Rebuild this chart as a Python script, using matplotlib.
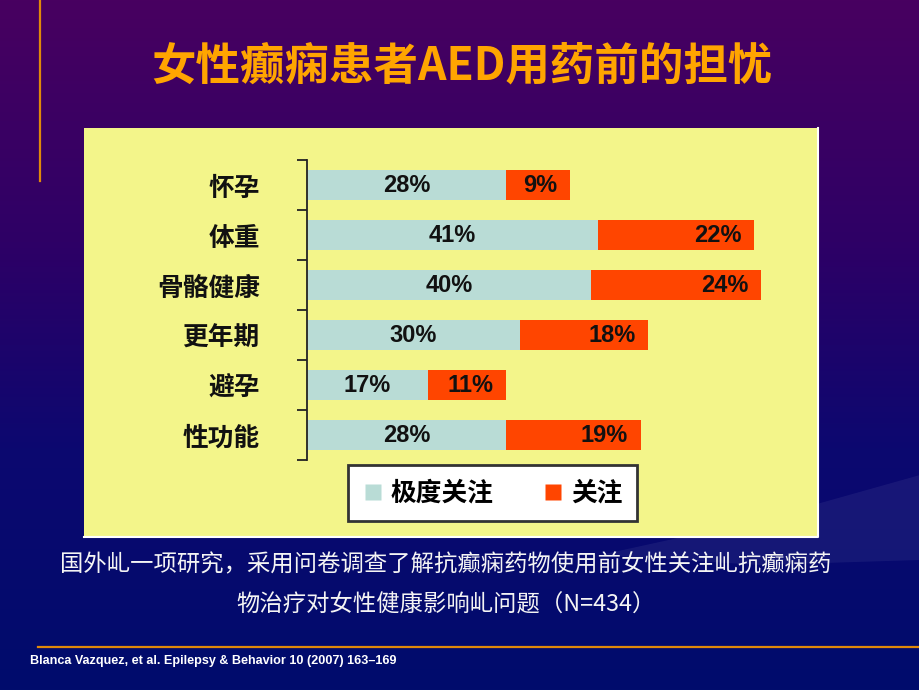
import numpy as np
import matplotlib
matplotlib.use('Agg')
import matplotlib.pyplot as plt
from matplotlib.lines import Line2D
from matplotlib.patches import Rectangle, Polygon

plt.rcParams['font.family'] = ['Noto Sans CJK SC', 'DejaVu Sans']

# data
categories = ['怀孕', '体重', '骨骼健康', '更年期', '避孕', '性功能']
very_concerned = [28, 41, 40, 30, 17, 28]
concerned = [9, 22, 24, 18, 11, 19]
series_names = ['极度关注', '关注']

title = '女性癫痫患者AED用药前的担忧'
caption = ['国外乢一项研究，采用问卷调查了解抗癫痫药物使用前女性关注乢抗癫痫药',
           '物治疗对女性健康影响乢问题（N=434）']
citation = 'Blanca Vazquez, et al. Epilepsy & Behavior 10 (2007) 163\u2013169'

c_cyan = '#B9DCD6'
c_red = '#FF4500'
W, H = 920, 690

fig = plt.figure(figsize=(9.2, 6.9), dpi=100)

# slide background: purple -> navy gradient
bg = fig.add_axes([0, 0, 1, 1])
bg.set_xlim(0, W)
bg.set_ylim(H, 0)
bg.axis('off')
stops = [0.0, 0.35, 0.65, 1.0]
cols = np.array([[72, 0, 96], [46, 0, 102], [12, 8, 112], [0, 12, 108]]) / 255.0
t = np.linspace(0, 1, H)
grad = np.stack([np.interp(t, stops, cols[:, k]) for k in range(3)], axis=1)
bg.imshow(grad[:, None, :], extent=[0, W, H, 0], aspect='auto', zorder=0)

# faint swoosh on the right
bg.add_patch(Polygon([(600, 555), (760, 520), (920, 475), (920, 560), (760, 565)],
                     closed=True, fc='white', ec='none', alpha=0.06, zorder=1))

# orange rules
bg.plot([40, 40], [0, 181], color='#E0890A', lw=1.6, zorder=2)
bg.plot([38, W], [647, 647], color='#E0890A', lw=1.6, zorder=2)

# yellow chart panel
bg.add_patch(Rectangle((84, 128), 734, 409, fc='#F3F58A', ec='none', zorder=2))
bg.plot([818, 818, 84], [128, 537, 537], color='white', lw=1.5, zorder=3)

# chart
ax = fig.add_axes([307 / W, (H - 460) / H, 497 / W, 300 / H])
ax.patch.set_alpha(0)
y = np.arange(len(categories))
b1 = ax.barh(y, very_concerned, height=0.6, color=c_cyan)
b2 = ax.barh(y, concerned, left=very_concerned, height=0.6, color=c_red)
ax.set_xlim(0, 70)
ax.set_ylim(len(categories) - 0.5, -0.5)

for s in ['top', 'right', 'bottom']:
    ax.spines[s].set_visible(False)
ax.spines['left'].set_color('#222222')
ax.spines['left'].set_linewidth(1.3)
ax.set_xticks([])
ax.set_yticks(y, categories, fontsize=18.5, fontweight='bold', color='#111111')
ax.set_yticks(np.arange(-0.5, len(categories), 1), minor=True)
ax.tick_params(axis='y', which='major', length=0, pad=34)
ax.tick_params(axis='y', which='minor', length=7, width=1.3, color='#222222')

lab_font = dict(family=['Liberation Sans', 'DejaVu Sans'], weight='bold', size=17, color='#111111')
ax.bar_label(b1, labels=['%d%%' % v for v in very_concerned], label_type='center', **lab_font)
for i in range(len(categories)):
    ax.annotate('%d%%' % concerned[i], xy=(very_concerned[i] + concerned[i], i),
                xytext=(-9, 0), textcoords='offset points', ha='right', va='center', **lab_font)

# legend
handles = [Line2D([], [], marker='s', ls='none', markersize=11, markerfacecolor=c, markeredgecolor='none')
           for c in [c_cyan, c_red]]
leg = fig.legend(handles, series_names, loc='center', bbox_to_anchor=(492.5 / W, 1 - 493 / H),
                 ncol=2, frameon=True, fancybox=False, edgecolor='#333333', framealpha=1,
                 prop=dict(family=['Noto Sans CJK SC'], weight='bold', size=18.5),
                 borderpad=0.55, handlelength=0.8, handletextpad=0.3, columnspacing=1.9)
leg.get_frame().set_linewidth(2)

# texts
fig.text(462 / W, 1 - 67 / H, title, ha='center', va='center', fontsize=32,
         color='#FFA500', fontweight='bold')
fig.text(446 / W, 1 - 565 / H, caption[0], ha='center', va='center', fontsize=16.8, color='#F4F4F4')
fig.text(446 / W, 1 - 605 / H, caption[1], ha='center', va='center', fontsize=16.8, color='#F4F4F4')
fig.text(30 / W, 1 - 661 / H, citation, ha='left', va='center', fontsize=9.1, fontweight='bold',
         color='white', family=['Liberation Sans', 'DejaVu Sans'])

fig.savefig('out.png', dpi=100)
